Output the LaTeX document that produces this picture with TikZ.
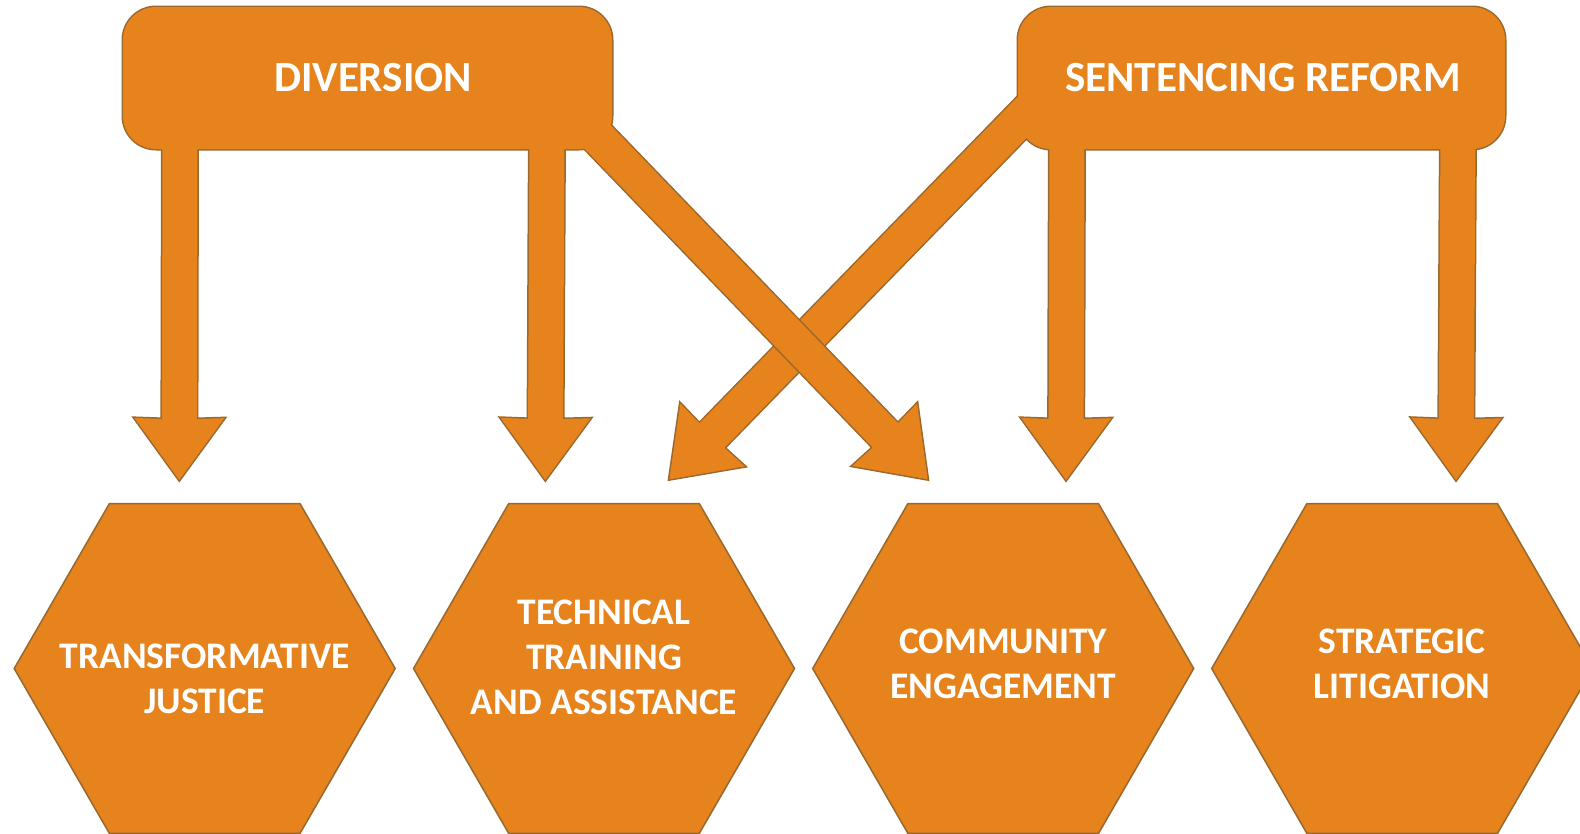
\documentclass[tikz,border=0pt]{standalone}
\usepackage{fontspec}
\setmainfont{Carlito}
\usetikzlibrary{calc,shapes.geometric}

\definecolor{hexorange}{RGB}{230,131,29}
\definecolor{hexbrown}{RGB}{152,104,46}

% block arrow from a shaft start to a tip
\newcommand{\blockarrow}[2]{($(#1)!17.5pt!90:(#2)$) -- ($(#2)!63.5pt!-16:(#1)$) -- ($(#2)!76.6pt!-36:(#1)$) -- (#2) -- ($(#2)!76.6pt!36:(#1)$) -- ($(#2)!63.5pt!16:(#1)$) -- ($(#1)!17.5pt!-90:(#2)$) -- cycle}

\begin{document}
\begin{tikzpicture}[x=1pt,y=1pt,yscale=-1,
    rim/.style={draw=hexbrown,line width=3pt},
    body/.style={fill=hexorange},
    hexa/.style={regular polygon,regular polygon sides=6,minimum size=381pt,inner sep=0pt,
                 fill=hexorange,draw=hexbrown,line width=1.5pt},
    headtext/.style={text=white,inner sep=0pt,font=\fontsize{43}{52}\selectfont\bfseries},
    hextext/.style={text=white,align=center,inner sep=0pt,font=\fontsize{37.5}{45}\selectfont\bfseries}]
    \useasboundingbox (0,0) rectangle (1580,833);

    % box corners
    \coordinate (divNW) at (123,7);
    \coordinate (divSE) at (612,149);
    \coordinate (senNW) at (1018,7);
    \coordinate (senSE) at (1505,149);
    % shaft starts (inside the boxes)
    \coordinate (d1) at (180,130);
    \coordinate (d2) at (547,130);
    \coordinate (d3) at (566.8,104.9);
    \coordinate (s1) at (1060.2,78.3);
    \coordinate (s2) at (1067,130);
    \coordinate (s3) at (1458,130);
    % arrow tips
    \coordinate (t1) at (179.3,480);
    \coordinate (t2) at (545.3,480);
    \coordinate (t3) at (927.7,479.3);
    \coordinate (t4) at (669.3,479.3);
    \coordinate (t5) at (1066,480);
    \coordinate (t6) at (1456,480);

    % Sentencing reform
    \foreach \lay in {rim,body}{
      \path[\lay,rounded corners=33pt] (senNW) rectangle (senSE);
      \path[\lay] \blockarrow{s1}{t4};
      \path[\lay] \blockarrow{s2}{t5};
      \path[\lay] \blockarrow{s3}{t6};
    }
    % Diversion
    \foreach \lay in {rim,body}{
      \path[\lay,rounded corners=33pt] (divNW) rectangle (divSE);
      \path[\lay] \blockarrow{d1}{t1};
      \path[\lay] \blockarrow{d2}{t2};
      \path[\lay] \blockarrow{d3}{t3};
    }

    \node[headtext] (divlabel) at (373,77.5) {DIVERSION};
    \node[headtext] (senlabel) at (1263,77.5) {SENTENCING REFORM};

    % Hexagons
    \node[hexa] (hex1) at (204.7,668.5) {};
    \node[hexa] (hex2) at (604,668.5) {};
    \node[hexa] (hex3) at (1003.2,668.5) {};
    \node[hexa] (hex4) at (1402.2,668.5) {};

    \node[hextext] (lab1) at (204.7,679) {TRANSFORMATIVE\\JUSTICE};
    \node[hextext] (lab2) at (604,657) {TECHNICAL\\TRAINING\\AND ASSISTANCE};
    \node[hextext] (lab3) at (1003.2,663.7) {COMMUNITY\\ENGAGEMENT};
    \node[hextext] (lab4) at (1402.2,663.7) {STRATEGIC\\LITIGATION};
\end{tikzpicture}
\end{document}
